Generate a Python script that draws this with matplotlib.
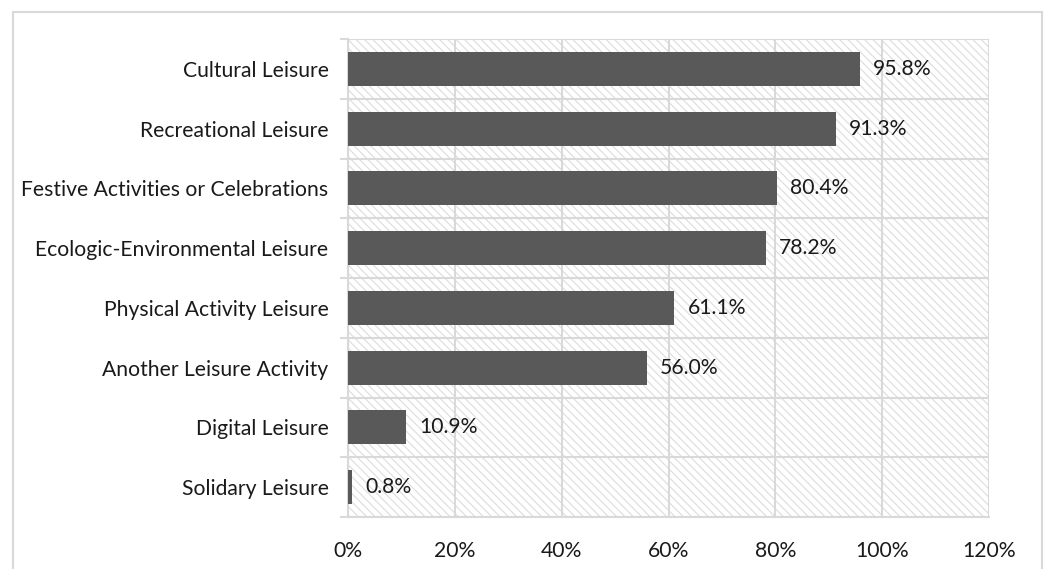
"""Horizontal bar chart of leisure activity participation."""
import numpy as np
import matplotlib.pyplot as plt
from matplotlib.patches import Rectangle
from matplotlib.ticker import FuncFormatter, MultipleLocator

plt.rcParams["font.family"] = ["Lato", "DejaVu Sans"]
plt.rcParams["hatch.linewidth"] = 0.8

# --- Data (top to bottom) ---
categories = [
    "Cultural Leisure",
    "Recreational Leisure",
    "Festive Activities or Celebrations",
    "Ecologic-Environmental Leisure",
    "Physical Activity Leisure",
    "Another Leisure Activity",
    "Digital Leisure",
    "Solidary Leisure",
]
percent = [95.8, 91.3, 80.4, 78.2, 61.1, 56.0, 10.9, 0.8]

GRID = "#d9d9d9"
HATCH = "#dcdcdc"
BAR = "#595959"
TEXT = "#1a1a1a"
FS = 15.2

W, H = 1047, 569
fig = plt.figure(figsize=(W / 100, H / 100), dpi=100)
ax = fig.add_axes([348 / W, (H - 517) / H, (989 - 348) / W, (517 - 39) / H])

# outer frame of the chart area
fig.patches.append(Rectangle((13 / W, -0.05), (1042 - 13) / W, (H - 12) / H + 0.05,
                             transform=fig.transFigure, fill=False,
                             edgecolor=GRID, linewidth=1.5))

# hatched plot background
ax.set_facecolor("none")
ax.add_patch(Rectangle((0, 0), 1, 1, transform=ax.transAxes, facecolor="white",
                       edgecolor=HATCH, hatch="\\\\\\\\", linewidth=0, zorder=0))

y = np.arange(len(categories))[::-1]
ax.barh(y, percent, height=0.57, color=BAR, zorder=3)

for yi, v in zip(y, percent):
    ax.annotate(f"{v:.1f}%", (v, yi), xytext=(13, 0), textcoords="offset pixels",
                va="center", ha="left", fontsize=FS, color=TEXT)

ax.set_xlim(0, 120)
ax.set_ylim(-0.5, len(categories) - 0.5)

ax.xaxis.set_major_locator(MultipleLocator(20))
ax.xaxis.set_major_formatter(FuncFormatter(lambda v, _: f"{v:.0f}%"))
ax.tick_params(axis="x", length=0, pad=17, labelsize=FS, labelcolor=TEXT)

ax.set_yticks(y)
ax.set_yticklabels(categories)
ax.set_yticks(np.arange(-0.5, len(categories)), minor=True)
ax.tick_params(axis="y", which="major", length=0, pad=14, labelsize=FS, labelcolor=TEXT)
ax.tick_params(axis="y", which="minor", length=6, width=1.5, color=GRID)

ax.grid(axis="x", which="major", color=GRID, linewidth=1.5, zorder=1)
ax.grid(axis="y", which="minor", color=GRID, linewidth=1.5, zorder=1)
ax.grid(axis="y", which="major", visible=False)
ax.set_axisbelow(True)

for side in ["top", "right"]:
    ax.spines[side].set_visible(False)
for side in ["left", "bottom"]:
    ax.spines[side].set_color(GRID)
    ax.spines[side].set_linewidth(1.5)

fig.savefig("out.png", dpi=100)
